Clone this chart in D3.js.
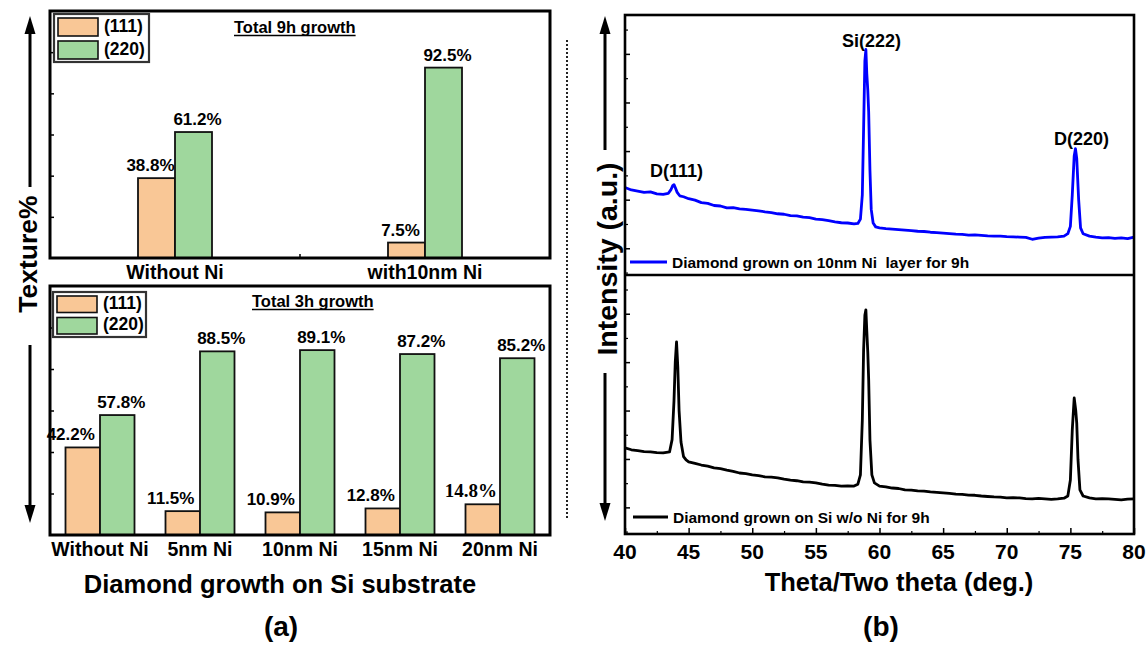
<!DOCTYPE html>
<html>
<head>
<meta charset="utf-8">
<script src="https://cdn.jsdelivr.net/npm/d3@7"></script>
<style>
  body { margin: 0; background: #fff; }
  svg { font-family: Arial, "Liberation Sans", sans-serif; font-weight: bold; }
</style>
</head>
<body>
<svg id="fig" width="1148" height="648"></svg>
<script>
// ---- data: texture bars ----
const series = ["(111)", "(220)"];
const cat9h = ["Without Ni", "with10nm Ni"];
const val111_9h = [38.8, 7.5];
const val220_9h = [61.2, 92.5];
const cat3h = ["Without Ni", "5nm Ni", "10nm Ni", "15nm Ni", "20nm Ni"];
const val111_3h = [42.2, 11.5, 10.9, 12.8, 14.8];
const val220_3h = [57.8, 88.5, 89.1, 87.2, 85.2];

// ---- data: XRD scans (two theta in deg, intensity in a.u.) ----
const xrdTicks = [40, 45, 50, 55, 60, 65, 70, 75, 80];
const thetaNi = [40, 40.5, 41, 41.5, 42, 42.5, 43, 43.4, 43.6, 43.75, 43.85, 43.95, 44.1, 44.3, 44.6, 45, 45.5, 46, 46.5, 47, 47.5, 48, 48.5, 49, 49.5, 50, 50.5, 51, 51.5, 52, 52.5, 53, 53.5, 54, 54.5, 55, 55.5, 56, 56.5, 57, 57.5, 58, 58.3, 58.5, 58.65, 58.75, 58.85, 58.93, 59.0, 59.08, 59.15, 59.25, 59.35, 59.5, 59.7, 60, 60.5, 61, 61.5, 62, 62.5, 63, 63.5, 64, 64.5, 65, 65.5, 66, 66.5, 67, 67.5, 68, 68.5, 69, 69.5, 70, 70.5, 71, 71.5, 72, 72.5, 73, 73.5, 74, 74.5, 74.8, 75.0, 75.15, 75.3, 75.4, 75.5, 75.65, 75.8, 76, 76.5, 77, 77.5, 78, 78.5, 79, 79.5, 80];
const intNi = [1250, 1200, 1175, 1150, 1160, 1120, 1110, 1130, 1200, 1290, 1310, 1250, 1150, 1080, 1060, 1020, 990, 940, 925, 880, 870, 830, 835, 810, 800, 785, 770, 750, 735, 710, 700, 670, 665, 640, 630, 600, 590, 570, 545, 525, 520, 500, 510, 600, 1100, 2450, 3850, 4090, 3600, 3250, 2800, 1600, 800, 520, 440, 420, 405, 395, 385, 375, 365, 350, 345, 330, 320, 310, 300, 290, 285, 270, 275, 265, 255, 250, 250, 240, 235, 230, 225, 185, 210, 225, 230, 235, 250, 300, 450, 1100, 1900, 2050, 1850, 1000, 420, 300, 250, 230, 215, 220, 205, 215, 200, 230];

const thetaSi = [40, 40.5, 41, 41.5, 42, 42.5, 43, 43.5, 43.7, 43.85, 43.95, 44.05, 44.15, 44.25, 44.4, 44.6, 44.8, 45, 45.5, 46, 46.5, 47, 47.5, 48, 48.5, 49, 49.5, 50, 50.5, 51, 51.5, 52, 52.5, 53, 53.5, 54, 54.5, 55, 55.5, 56, 56.5, 57, 57.5, 58, 58.3, 58.5, 58.65, 58.75, 58.85, 58.93, 59.0, 59.08, 59.15, 59.25, 59.4, 59.6, 60, 60.5, 61, 61.5, 62, 62.5, 63, 63.5, 64, 64.5, 65, 65.5, 66, 66.5, 67, 67.5, 68, 68.5, 69, 69.5, 70, 70.5, 71, 71.5, 72, 72.5, 73, 73.5, 74, 74.5, 74.8, 75.0, 75.15, 75.3, 75.42, 75.5, 75.6, 75.75, 76, 76.5, 77, 77.5, 78, 78.5, 79, 79.5, 80];
const intSi = [1230, 1190, 1170, 1150, 1145, 1130, 1124, 1145, 1400, 2200, 3000, 3420, 2900, 2000, 1350, 1050, 980, 940, 910, 875, 850, 815, 800, 770, 745, 710, 695, 670, 655, 630, 625, 610, 585, 565, 550, 525, 520, 505, 480, 460, 455, 440, 445, 440, 480, 670, 1800, 3240, 3970, 4080, 3650, 3200, 2630, 1390, 670, 505, 440, 425, 400, 390, 360, 355, 340, 335, 320, 310, 300, 290, 275, 270, 255, 250, 235, 225, 215, 210, 195, 200, 195, 180, 175, 185, 175, 165, 175, 190, 235, 565, 1600, 2260, 2010, 1740, 980, 360, 235, 195, 175, 180, 175, 165, 155, 170, 175];

const svg = d3.select("#fig");

// ---------- texture bar panels ----------
const colors = { "(111)": "#f9c796", "(220)": "#9fd79d" };

function drawBarPanel(box, cats, v111, v220, barFrac, offs, title) {
  const g = svg.append("g");
  const x = d3.scaleBand().domain(cats).range([box.x0, box.x1]);
  const y = d3.scaleLinear().domain([0, 120]).range([box.y1, box.y0]);
  const bw = x.bandwidth() * barFrac;

  const rows = cats.map((c, i) => ({ c, i, a: v111[i], b: v220[i] }));

  // left ticks, inward
  g.append("g")
    .attr("transform", `translate(${box.x0},0)`)
    .call(d3.axisLeft(y).tickValues([20, 40, 60, 80, 100]).tickSize(-4).tickFormat(""))
    .call(s => s.select(".domain").remove())
    .selectAll("line").attr("stroke", "#000").attr("stroke-width", 1.5);

  // bars
  g.selectAll("rect.b111").data(rows).join("rect")
    .attr("x", d => x(d.c) + x.bandwidth() / 2 - bw)
    .attr("y", d => y(d.a))
    .attr("width", bw)
    .attr("height", d => y(0) - y(d.a))
    .attr("fill", colors["(111)"]).attr("stroke", "#111").attr("stroke-width", 1.8);
  g.selectAll("rect.b220").data(rows).join("rect")
    .attr("x", d => x(d.c) + x.bandwidth() / 2)
    .attr("y", d => y(d.b))
    .attr("width", bw)
    .attr("height", d => y(0) - y(d.b))
    .attr("fill", colors["(220)"]).attr("stroke", "#111").attr("stroke-width", 1.8);

  // value labels (the last (111) label of the 3h panel is set in a serif face)
  g.selectAll("text.l111").data(rows).join("text")
    .attr("x", d => x(d.c) + x.bandwidth() / 2 - bw / 2 + offs[0])
    .attr("y", d => y(d.a) - 7)
    .attr("text-anchor", "middle")
    .style("font-family", d => (cats.length > 2 && d.i === 4 ? "'Liberation Serif', 'DejaVu Serif', serif" : null))
    .style("font-size", d => (cats.length > 2 && d.i === 4 ? "19px" : "17px"))
    .text(d => d.a + "%");
  g.selectAll("text.l220").data(rows).join("text")
    .attr("x", d => x(d.c) + x.bandwidth() / 2 + bw / 2 + offs[1])
    .attr("y", d => y(d.b) - 7)
    .attr("text-anchor", "middle").attr("font-size", 17)
    .text(d => d.b + "%");

  // category labels
  g.selectAll("text.cat").data(cats).join("text")
    .attr("x", d => x(d) + x.bandwidth() / 2)
    .attr("y", box.y1 + 21)
    .attr("text-anchor", "middle").attr("font-size", 19.5)
    .text(d => d);

  // frame
  g.append("rect")
    .attr("x", box.x0).attr("y", box.y0)
    .attr("width", box.x1 - box.x0).attr("height", box.y1 - box.y0)
    .attr("fill", "none").attr("stroke", "#000").attr("stroke-width", 3);

  // legend
  const lg = g.append("g");
  lg.append("rect")
    .attr("x", box.lx).attr("y", box.ly).attr("width", box.lw).attr("height", box.lh)
    .attr("fill", "#fff").attr("stroke", "#333").attr("stroke-width", 2.2);
  series.forEach((s, i) => {
    const sy = box.ly + 4 + i * box.lh / 2 - i * 1;
    lg.append("rect")
      .attr("x", box.lx + 4).attr("y", sy)
      .attr("width", 40).attr("height", box.lh / 2 - 6)
      .attr("fill", colors[s]).attr("stroke", "#111").attr("stroke-width", 1.6);
    lg.append("text")
      .attr("x", box.lx + 50).attr("y", sy + box.lh / 2 - 10)
      .attr("font-size", 17.5).text(s);
  });

  // panel title, underlined
  const t = g.append("text")
    .attr("x", box.tx).attr("y", box.ty)
    .attr("font-size", 16.5).text(title);
  const tb = t.node().getBBox();
  g.append("line")
    .attr("x1", tb.x).attr("x2", tb.x + tb.width)
    .attr("y1", box.ty + 2.5).attr("y2", box.ty + 2.5)
    .attr("stroke", "#000").attr("stroke-width", 1.4);
  return { x, y };
}

drawBarPanel(
  { x0: 50, x1: 550, y0: 11, y1: 258, lx: 54, ly: 14, lw: 95, lh: 48, tx: 234, ty: 33 },
  cat9h, val111_9h, val220_9h, 0.148, [-6, 4], "Total 9h growth");
// small tick between the two groups
svg.append("line")
  .attr("x1", 300).attr("x2", 300).attr("y1", 258).attr("y2", 254)
  .attr("stroke", "#000").attr("stroke-width", 1.5);

drawBarPanel(
  { x0: 50, x1: 550, y0: 286, y1: 535, lx: 53, ly: 292, lw: 93, lh: 45, tx: 252, ty: 307 },
  cat3h, val111_3h, val220_3h, 0.345, [-12, 4], "Total 3h growth");

svg.append("text")
  .attr("x", 280).attr("y", 593)
  .attr("text-anchor", "middle").attr("font-size", 25.5)
  .text("Diamond growth on Si substrate");
svg.append("text")
  .attr("x", 281).attr("y", 636)
  .attr("text-anchor", "middle").attr("font-size", 28)
  .text("(a)");

// vertical arrow helper
function arrow(x, yFrom, yTip) {
  const dir = yTip < yFrom ? -1 : 1;
  svg.append("line")
    .attr("x1", x).attr("x2", x)
    .attr("y1", yFrom).attr("y2", yTip - dir * 14)
    .attr("stroke", "#000").attr("stroke-width", 3);
  svg.append("path")
    .attr("d", `M${x - 5.5},${yTip - dir * 18} L${x + 5.5},${yTip - dir * 18} L${x},${yTip} Z`)
    .attr("fill", "#000");
}

arrow(30, 187, 16);
arrow(30, 345, 523);
svg.append("text")
  .attr("transform", "translate(37,254) rotate(-90)")
  .attr("text-anchor", "middle").attr("font-size", 26.5)
  .text("Texture%");

// dotted separator
svg.append("line")
  .attr("x1", 567).attr("x2", 567).attr("y1", 40).attr("y2", 518)
  .attr("stroke", "#222").attr("stroke-width", 2).attr("stroke-dasharray", "2,2");

// ---------- XRD panel ----------
const xr = d3.scaleLinear().domain([40, 80]).range([625, 1134]);
const yTop = d3.scaleLinear().domain([-550, 4800]).range([275, 15]);
const yBot = d3.scaleLinear().domain([-550, 4800]).range([534, 275]);

[yTop, yBot].forEach(ys => {
  svg.append("g")
    .attr("transform", "translate(625,0)")
    .call(d3.axisLeft(ys).tickValues([0, 1000, 2000, 3000, 4000]).tickSize(-5).tickFormat(""))
    .call(s => s.select(".domain").remove())
    .selectAll("line").attr("stroke", "#000").attr("stroke-width", 1.5);
  svg.append("g")
    .attr("transform", "translate(625,0)")
    .call(d3.axisLeft(ys).tickValues([-500, 500, 1500, 2500, 3500, 4500]).tickSize(-3).tickFormat(""))
    .call(s => s.select(".domain").remove())
    .selectAll("line").attr("stroke", "#000").attr("stroke-width", 1.2);
});

svg.append("g")
  .attr("transform", "translate(0,534)")
  .call(d3.axisBottom(xr).tickValues(xrdTicks).tickSize(-6).tickFormat(""))
  .call(s => s.select(".domain").remove())
  .selectAll("line").attr("stroke", "#000").attr("stroke-width", 1.5);
svg.append("g")
  .attr("transform", "translate(0,534)")
  .call(d3.axisBottom(xr).tickValues(xrdTicks.slice(0, -1).map(t => t + 2.5)).tickSize(-3).tickFormat(""))
  .call(s => s.select(".domain").remove())
  .selectAll("line").attr("stroke", "#000").attr("stroke-width", 1.2);

svg.selectAll("text.xt").data(xrdTicks).join("text")
  .attr("x", d => xr(d)).attr("y", 559)
  .attr("text-anchor", "middle").attr("font-size", 21)
  .text(d => d);

const lineTop = d3.line().x(d => xr(d[0])).y(d => yTop(d[1]));
const lineBot = d3.line().x(d => xr(d[0])).y(d => yBot(d[1]));

svg.append("path")
  .datum(thetaNi.map((t, i) => [t, intNi[i]]))
  .attr("d", lineTop)
  .attr("fill", "none").attr("stroke", "#0000ff").attr("stroke-width", 2.8)
  .attr("stroke-linejoin", "round");
svg.append("path")
  .datum(thetaSi.map((t, i) => [t, intSi[i]]))
  .attr("d", lineBot)
  .attr("fill", "none").attr("stroke", "#000").attr("stroke-width", 2.8)
  .attr("stroke-linejoin", "round");

// frame + divider
svg.append("rect")
  .attr("x", 625).attr("y", 15).attr("width", 1134 - 625).attr("height", 534 - 15)
  .attr("fill", "none").attr("stroke", "#000").attr("stroke-width", 2.6);
svg.append("line")
  .attr("x1", 625).attr("x2", 1134).attr("y1", 275).attr("y2", 275)
  .attr("stroke", "#000").attr("stroke-width", 2.6);

// peak labels
[["D(111)", 650, 177], ["Si(222)", 842, 47], ["D(220)", 1054, 145]].forEach(p => {
  svg.append("text").attr("x", p[1]).attr("y", p[2]).attr("font-size", 18).text(p[0]);
});

// legends
svg.append("line").attr("x1", 630).attr("x2", 667).attr("y1", 262).attr("y2", 262)
  .attr("stroke", "#0000ff").attr("stroke-width", 3);
svg.append("text").attr("x", 672).attr("y", 268).attr("font-size", 15.5)
  .style("white-space", "pre").text("Diamond grown on 10nm Ni  layer for 9h");
svg.append("line").attr("x1", 633).attr("x2", 668).attr("y1", 517).attr("y2", 517)
  .attr("stroke", "#000").attr("stroke-width", 3);
svg.append("text").attr("x", 673).attr("y", 523).attr("font-size", 15.5)
  .text("Diamond grown on Si w/o Ni for 9h");

arrow(605, 150, 16);
arrow(605, 373, 521);
svg.append("text")
  .attr("transform", "translate(617,259) rotate(-90)")
  .attr("text-anchor", "middle").attr("font-size", 28.5)
  .text("Intensity (a.u.)");

svg.append("text")
  .attr("x", 899).attr("y", 591)
  .attr("text-anchor", "middle").attr("font-size", 25.5)
  .text("Theta/Two theta (deg.)");
svg.append("text")
  .attr("x", 881).attr("y", 636)
  .attr("text-anchor", "middle").attr("font-size", 28)
  .text("(b)");
</script>
</body>
</html>
